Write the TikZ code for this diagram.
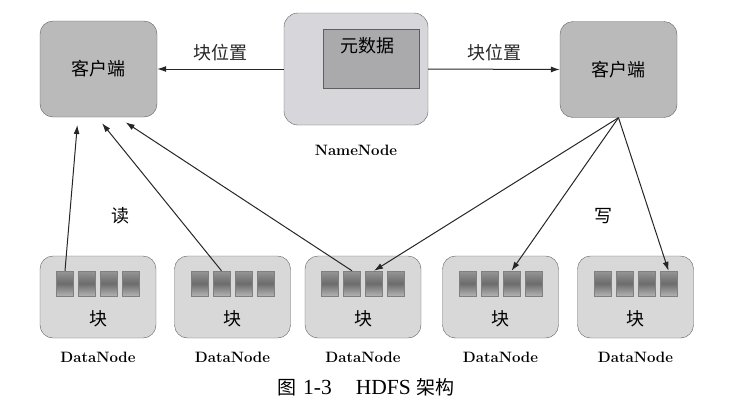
\documentclass[tikz,border=0pt]{standalone}
\usepackage{fontspec}
\newfontfamily\cjk{Noto Sans CJK SC}
\newfontfamily\capfont{Liberation Serif}
\usetikzlibrary{arrows.meta}
\definecolor{clientfill}{RGB}{186,186,186}
\definecolor{nnfill}{RGB}{214,214,219}
\definecolor{metafill}{RGB}{170,170,172}
\definecolor{dnfill}{RGB}{216,216,216}
\definecolor{edge}{RGB}{95,95,95}
\definecolor{blktop}{RGB}{150,150,150}
\definecolor{blkmid}{RGB}{108,108,108}
\definecolor{blkbot}{RGB}{178,178,178}
\begin{document}
\begin{tikzpicture}[
    x=1pt, y=-1pt,
    client/.style={draw=edge, fill=clientfill, rounded corners=13pt, minimum width=117pt, minimum height=96pt, font=\cjk\fontsize{18}{18}\selectfont},
    namenode/.style={draw=edge, fill=nnfill, rounded corners=14pt, minimum width=144pt, minimum height=112pt},
    meta/.style={draw=edge, fill=metafill, minimum width=96pt, minimum height=59pt},
    datanode/.style={draw=edge, fill=dnfill, rounded corners=13pt, minimum width=116pt, minimum height=82pt},
    blk/.style={draw=gray, top color=blktop, bottom color=blkbot, middle color=blkmid, minimum width=17pt, minimum height=25pt, inner sep=0pt},
    lbl/.style={font=\bfseries\fontsize{15}{15}\selectfont},
    cn/.style={font=\cjk\fontsize{18}{18}\selectfont},
    arrow/.style={-{Latex[length=9pt,width=6pt]}, line width=1pt, black!85}
]
\useasboundingbox (0,0) rectangle (732,413);

% Clients and NameNode
\node[client] (cl) at (98.5,69) {客户端};
\node[client] (cr) at (618.5,69.5) {客户端};
\node[namenode] (nn) at (356,69) {};
\node[meta] (meta) at (371,58.5) {};
\node[cn] (metatxt) at (367,46) {元数据};
\node[lbl] (nnlbl) at (356,150) {NameNode};

% Block locations
\draw[arrow] (nn.west) -- (cl.east) node[cn, midway, above=4pt] {块位置};
\draw[arrow] (nn.east) -- (cr.west) node[cn, midway, above=4pt] {块位置};

% DataNodes
\foreach \n/\x in {1/98, 2/232.5, 3/363, 4/500.5, 5/635.5} {
    \node[datanode] (d\n) at (\x,297) {};
    \foreach \k/\dx in {1/-33, 2/-11, 3/11, 4/33}
        \node[blk] (d\n b\k) at (\x+\dx,283.5) {};
    \node[cn] (d\n t) at (\x,319) {块};
    \node[lbl] (d\n l) at (\x,357) {DataNode};
}

% Read
\coordinate (r1) at (78,117);
\coordinate (r2) at (97,117);
\coordinate (r3) at (119,118);
\draw[arrow, shorten >=8pt] (d1b1.north) -- (r1);
\draw[arrow, shorten >=8pt] (d2b2.north) -- (r2);
\draw[arrow, shorten >=8pt] (d3b2.north) -- (r3);
\node[cn] (read) at (120,216) {读};

% Write
\draw[arrow] (cr.south) -- (d3b3.north);
\draw[arrow] (cr.south) -- (d4b3.north);
\draw[arrow] (cr.south) -- (d5b4.north);
\node[cn] (write) at (603,216) {写};

% Caption
\node[font=\cjk\fontsize{19}{19}\selectfont] (cap) at (366,387) {图\hspace{7pt}{\capfont\fontsize{21.5}{21.5}\selectfont 1-3}\hspace{24pt}{\capfont\fontsize{21.5}{21.5}\selectfont HDFS}\hspace{6pt}架构};
\end{tikzpicture}
\end{document}
